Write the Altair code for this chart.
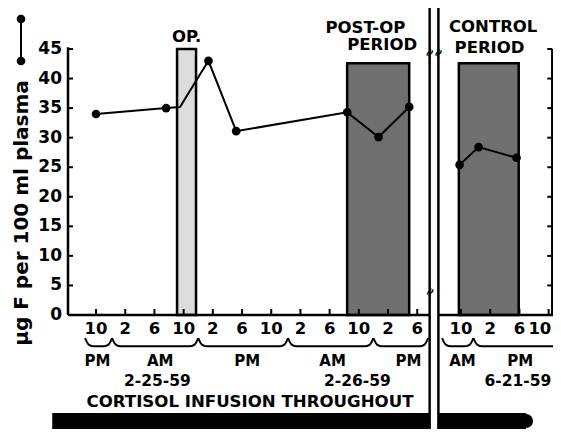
import altair as alt
import pandas as pd

# ---------------- data ----------------
# x is hours after 10 PM on 2-24-59 (axis broken after 6 PM on 2-26-59; the
# 6-21-59 control day is placed after the break)
pt_hours = [0.0, 9.6, 11.5, 15.4, 19.2, 34.4, 38.7, 42.9, 49.8, 52.4, 57.6]
pt_values = [34.0, 35.0, 35.2, 43.0, 31.1, 34.3, 30.1, 35.2, 25.4, 28.4, 26.6]
pt_series = ["feb"] * 8 + ["jun"] * 3
pt_dot = [True, True, False, True, True, True, True, True, True, True, True]

bar_start = [11.1, 34.4, 49.7]
bar_end = [13.7, 42.9, 57.9]
bar_top = [45.0, 42.6, 42.6]
bar_fill = ["#dcdcdc", "#707070", "#707070"]

tick_hours = [0, 4, 8, 12, 16, 20, 24, 28, 32, 36, 40, 44, 50, 54, 58, 62]
tick_labels = ["10", "2", "6", "10", "2", "6", "10", "2", "6", "10", "2", "6",
               "10", "2", "6", "10"]
# label anchor (the last one is nudged in so that it stays on the page)
tick_label_hours = tick_hours[:-1] + [60.8]
y_ticks = [0, 5, 10, 15, 20, 25, 30, 35, 40, 45]

half_hours = [0.2, 8.8, 20.7, 32.4, 42.8, 50.2, 58.1]
half_labels = ["PM", "AM", "PM", "AM", "PM", "AM", "PM"]
date_hours = [8.4, 35.8, 57.8]
date_labels = ["2-25-59", "2-26-59", "6-21-59"]

brace_start = [-1.5, 2.2, 14.0, 26.3, 38.0, 47.4, 51.7]
brace_end = [2.2, 14.0, 26.3, 38.0, 45.5, 51.7, 64.0]

break_hours = [45.7, 46.9]
infusion_start = [-6.0, 46.9]
infusion_end = [45.7, 58.9]
infusion_cap = [58.9]

period_text = ["OP.", "POST-OP", "PERIOD", "CONTROL", "PERIOD"]
period_x = [12.4, 36.9, 39.2, 54.4, 53.9]
period_y = [29, 20, 37, 19, 40]

PX_PER_H = 7.30
X_MIN = -3.84
W, H = 485, 421
X_MAX = X_MIN + W / PX_PER_H
PX_PER_U = 266 / 45
Y_MAX = 307 / PX_PER_U
Y_MIN = -(H - 307) / PX_PER_U
RIGHT_AXIS = 62.5

xs = alt.Scale(domain=[X_MIN, X_MAX], nice=False, zero=False)
ys = alt.Scale(domain=[Y_MIN, Y_MAX], nice=False, zero=False)


def X(f):
    return alt.X(f, type="quantitative", scale=xs, axis=None)


def Y(f):
    return alt.Y(f, type="quantitative", scale=ys, axis=None)


pts = pd.DataFrame({"h": pt_hours, "v": pt_values, "s": pt_series, "dot": pt_dot})
bars = pd.DataFrame({"a": bar_start, "b": bar_end, "top": bar_top,
                     "fill": bar_fill, "zero": [0] * 3})
ticks = pd.DataFrame({"h": tick_hours, "lh": tick_label_hours, "lab": tick_labels})
yt = pd.DataFrame({"v": y_ticks, "lab": [str(v) for v in y_ticks]})
halves = pd.DataFrame({"h": half_hours, "lab": half_labels})
dates = pd.DataFrame({"h": date_hours, "lab": date_labels})
periods = pd.DataFrame({"h": period_x, "py": period_y, "lab": period_text})
breaks = pd.DataFrame({"h": break_hours})
infusion = pd.DataFrame({"a": infusion_start, "b": infusion_end})
cap = pd.DataFrame({"h": infusion_cap})

# axis lines (in data units)
axes = pd.DataFrame({
    "x1": [X_MIN, break_hours[1], X_MIN, RIGHT_AXIS],
    "x2": [break_hours[0], X_MAX, X_MIN, RIGHT_AXIS],
    "y1": [0, 0, 0, 0],
    "y2": [0, 0, 45.3, 45.0],
})

# braces built from their end hours
rows = []
for i, (a, b) in enumerate(zip(brace_start, brace_end)):
    for dx, yy in [(0, -3.9), (0.5, -5.0), (1.2, -5.3), (b - a - 1.2, -5.3),
                   (b - a - 0.5, -5.0), (b - a, -3.9)]:
        rows.append({"g": i, "h": a + dx, "y": yy, "o": len(rows)})
braces = pd.DataFrame(rows)

one = pd.DataFrame({"a": [0]})

BOLD = dict(font="DejaVu Sans", fontWeight="bold")
rpx = (RIGHT_AXIS - X_MIN) * PX_PER_H

layers = []

# period bars
layers.append(alt.Chart(bars).mark_rect(stroke="black", strokeWidth=2.5).encode(
    x=X("a"), x2="b", y=Y("zero"), y2="top",
    fill=alt.Fill("fill:N", scale=None)))

# axis lines
layers.append(alt.Chart(axes).mark_rule(color="black", strokeWidth=2.5).encode(
    x=X("x1"), x2="x2", y=Y("y1"), y2="y2"))

# y ticks (inward) left and right
layers.append(alt.Chart(yt).mark_rule(color="black", strokeWidth=2).encode(
    x=alt.value(0), x2=alt.value(5), y=Y("v")))
layers.append(alt.Chart(yt).mark_rule(color="black", strokeWidth=2).encode(
    x=alt.value(rpx), x2=alt.value(rpx - 5), y=Y("v")))

# y tick labels
layers.append(alt.Chart(yt).mark_text(
    align="right", baseline="middle", fontSize=17, dx=-6, **BOLD).encode(
    x=alt.value(0), y=Y("v"), text="lab"))

# x ticks (inward) and labels
layers.append(alt.Chart(ticks).mark_rule(color="black", strokeWidth=2).encode(
    x=X("h"), y=alt.value(307), y2=alt.value(301)))
layers.append(alt.Chart(ticks).mark_text(
    baseline="middle", fontSize=16.5, **BOLD).encode(
    x=X("lh"), y=alt.value(321), text="lab"))

# braces
layers.append(alt.Chart(braces).mark_line(
    color="black", strokeWidth=2, interpolate="monotone").encode(
    x=X("h"), y=Y("y"), detail="g:N", order="o:Q"))

# AM / PM and dates
layers.append(alt.Chart(halves).mark_text(
    baseline="middle", fontSize=15, **BOLD).encode(
    x=X("h"), y=alt.value(353), text="lab"))
layers.append(alt.Chart(dates).mark_text(
    baseline="middle", fontSize=15.5, **BOLD).encode(
    x=X("h"), y=alt.value(373), text="lab"))

# infusion text and bar
layers.append(alt.Chart(one).mark_text(
    baseline="middle", fontSize=16.6, text="CORTISOL INFUSION THROUGHOUT",
    **BOLD).encode(x=alt.value(182), y=alt.value(394)))
layers.append(alt.Chart(infusion).mark_rect(color="black").encode(
    x=X("a"), x2="b", y=alt.value(405), y2=alt.value(421)))
layers.append(alt.Chart(cap).mark_circle(color="black", opacity=1, size=200).encode(
    x=X("h"), y=alt.value(413)))

# period titles
layers.append(alt.Chart(periods).mark_text(
    baseline="middle", fontSize=16.5, **BOLD).encode(
    x=X("h"), y=alt.Y("py:Q", scale=None), text="lab"))

# data line and dots
layers.append(alt.Chart(pts).mark_line(color="black", strokeWidth=2).encode(
    x=X("h"), y=Y("v"), detail="s:N"))
layers.append(alt.Chart(pts).transform_filter("datum.dot").mark_circle(
    color="black", opacity=1, size=75).encode(x=X("h"), y=Y("v")))

# axis break
layers.append(alt.Chart(breaks).mark_rule(color="black", strokeWidth=2.5).encode(
    x=X("h"), y=alt.value(0), y2=alt.value(H)))
layers.append(alt.Chart(breaks).mark_text(
    fontSize=12, angle=300, text="≈", **BOLD).encode(
    x=X("h"), y=alt.value(45)))
layers.append(alt.Chart(one).mark_text(
    fontSize=12, angle=300, text="≈", **BOLD).encode(
    x=alt.value(362), y=alt.value(284)))

# y title with line-and-dot key
layers.append(alt.Chart(one).mark_text(
    angle=270, baseline="middle", fontSize=20, text="µg F per 100 ml plasma",
    **BOLD).encode(x=alt.value(-46), y=alt.value(205)))
layers.append(alt.Chart(one).mark_rule(color="black", strokeWidth=2).encode(
    x=alt.value(-47), y=alt.value(11), y2=alt.value(53)))
layers.append(alt.Chart(one).mark_circle(color="black", opacity=1, size=75).encode(
    x=alt.value(-47), y=alt.value(11)))
layers.append(alt.Chart(one).mark_circle(color="black", opacity=1, size=75).encode(
    x=alt.value(-47), y=alt.value(53)))

chart = alt.layer(*layers).properties(
    width=W, height=H,
    autosize=alt.AutoSizeParams(type="none"),
    padding={"left": 60, "top": 0, "right": 0, "bottom": 0},
).configure(background="white", view=alt.ViewConfig(stroke=None))

chart.save("out.html", embed_options={"renderer": "svg", "actions": False})
